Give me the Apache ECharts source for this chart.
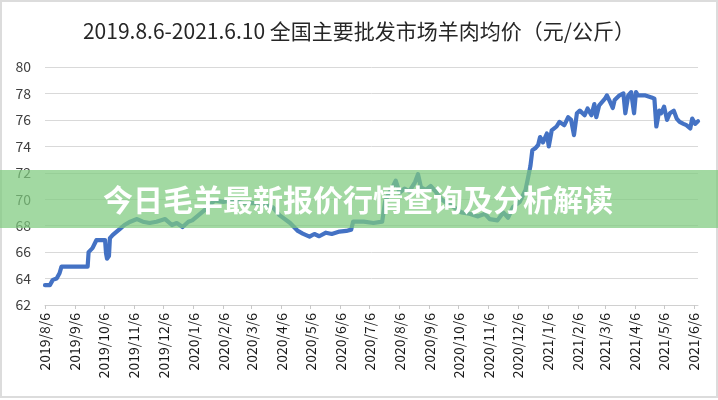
<!DOCTYPE html>
<html>
<head>
<meta charset="utf-8">
<script src="https://cdn.jsdelivr.net/npm/echarts@6/dist/echarts.min.js"></script>
<style>
html,body{margin:0;padding:0;background:#fff;}
#c{width:718px;height:400px;}
</style>
</head>
<body>
<div id="c"></div>
<script>
var titleText = '2019.8.6-2021.6.10 全国主要批发市场羊肉均价（元/公斤）';
var bannerText = '今日毛羊最新报价行情查询及分析解读';

var tickLabels = ['2019/8/6','2019/9/6','2019/10/6','2019/11/6','2019/12/6','2020/1/6','2020/2/6','2020/3/6','2020/4/6','2020/5/6','2020/6/6','2020/7/6','2020/8/6','2020/9/6','2020/10/6','2020/11/6','2020/12/6','2021/1/6','2021/2/6','2021/3/6','2021/4/6','2021/5/6','2021/6/6'];

var yTicks = [62, 64, 66, 68, 70, 72, 74, 76, 78, 80];

var dates = [
'2019/8/6','2019/8/11','2019/8/14','2019/8/18','2019/8/21','2019/8/23','2019/9/19','2019/9/20','2019/9/24','2019/9/28',
'2019/10/7','2019/10/8','2019/10/9','2019/10/11','2019/10/12','2019/10/15','2019/10/19','2019/10/23','2019/10/27','2019/11/2',
'2019/11/9','2019/11/15','2019/11/22','2019/11/29','2019/12/8','2019/12/15','2019/12/20','2019/12/26','2020/1/1','2020/1/5',
'2020/1/10','2020/1/18','2020/1/28','2020/2/6','2020/2/15','2020/2/28','2020/3/10','2020/3/20','2020/3/28','2020/4/4',
'2020/4/15','2020/4/23','2020/4/28','2020/5/5','2020/5/10','2020/5/15','2020/5/22','2020/5/28','2020/6/5','2020/6/12',
'2020/6/17','2020/6/19','2020/6/30','2020/7/10','2020/7/19','2020/7/22','2020/7/25','2020/7/29','2020/8/2','2020/8/6',
'2020/8/11','2020/8/16','2020/8/22','2020/8/25','2020/8/28','2020/9/2','2020/9/7','2020/9/12','2020/9/18','2020/9/24',
'2020/10/1','2020/10/9','2020/10/17','2020/10/26','2020/11/2','2020/11/7','2020/11/15','2020/11/21','2020/11/26','2020/12/1',
'2020/12/8','2020/12/14','2020/12/19','2020/12/21','2020/12/24','2020/12/27','2020/12/29','2021/1/1','2021/1/5','2021/1/7',
'2021/1/10','2021/1/15','2021/1/18','2021/1/23','2021/1/27','2021/1/30','2021/2/2','2021/2/5','2021/2/8','2021/2/13',
'2021/2/16','2021/2/20','2021/2/23','2021/2/25','2021/2/28','2021/3/6','2021/3/8','2021/3/11','2021/3/14','2021/3/16',
'2021/3/21','2021/3/25','2021/3/27','2021/3/30','2021/4/2','2021/4/5','2021/4/7','2021/4/9','2021/4/16','2021/4/23',
'2021/4/26','2021/4/28','2021/5/1','2021/5/3','2021/5/6','2021/5/9','2021/5/12','2021/5/16','2021/5/19','2021/5/22',
'2021/5/26','2021/5/29','2021/6/2','2021/6/4','2021/6/7','2021/6/9','2021/6/10'
];

var prices = [
63.5,63.5,63.9,64.0,64.4,64.9,64.9,66.0,66.3,66.9,
66.9,65.9,65.5,65.7,67.05,67.3,67.55,67.8,68.05,68.3,
68.5,68.3,68.2,68.3,68.5,68.05,68.2,67.9,68.3,68.4,
68.7,69.2,69.9,69.8,69.9,69.7,69.7,69.6,69.4,68.8,
68.2,67.6,67.4,67.17,67.37,67.2,67.47,67.37,67.55,67.6,
67.7,68.3,68.3,68.2,68.3,69.8,70.3,70.8,71.4,70.5,
70.8,70.6,71.3,71.9,70.9,70.7,71.0,70.6,70.0,69.7,
69.4,69.0,68.9,68.7,68.9,68.5,68.4,69.0,68.6,69.4,
69.8,70.7,72.5,73.7,73.85,74.1,74.7,74.3,74.97,74.0,
75.2,75.5,75.85,75.6,76.2,76.0,74.85,76.5,76.7,76.35,
76.86,76.35,77.2,76.2,77.1,77.6,77.85,77.4,76.9,77.5,
77.86,78.0,76.5,77.86,78.1,76.5,78.1,77.86,77.86,77.7,
77.6,75.5,76.7,76.5,77.0,76.0,76.5,76.7,76.1,75.85,
75.7,75.6,75.35,76.1,75.7,75.85,75.9
];

function ts(s) {
  var p = s.split('/');
  return new Date(+p[0], +p[1] - 1, +p[2]).getTime();
}
function fmt(v) {
  var d = new Date(v);
  return d.getFullYear() + '/' + (d.getMonth() + 1) + '/' + d.getDate();
}

var tickTs = tickLabels.map(ts);
var seriesData = dates.map(function (d, i) { return [ts(d), prices[i]]; });

var chart = echarts.init(document.getElementById('c'), null, {renderer: 'canvas'});
var FONT = "'Noto Sans CJK SC', 'Noto Sans', sans-serif";

chart.setOption({
  backgroundColor: '#ffffff',
  animation: false,
  title: {
    text: titleText,
    left: 'center',
    top: 16,
    textStyle: {fontSize: 21, fontWeight: 'normal', color: '#262626', fontFamily: FONT}
  },
  grid: {left: 45, right: 20, top: 67, bottom: 95, containLabel: false},
  xAxis: {
    type: 'value',
    min: ts('2019/8/6'),
    max: ts('2021/6/10'),
    axisLine: {show: true, lineStyle: {color: '#d0d0d0', width: 1}},
    axisTick: {show: true, customValues: tickTs, length: 4, lineStyle: {color: '#c8c8c8'}},
    axisLabel: {
      customValues: tickTs,
      rotate: 90,
      margin: 8,
      fontSize: 14,
      color: '#1a1a1a',
      fontFamily: FONT,
      formatter: function (v) { return fmt(v); }
    },
    splitLine: {show: false}
  },
  yAxis: {
    type: 'value',
    min: yTicks[0],
    max: yTicks[yTicks.length - 1],
    interval: 2,
    axisLine: {show: false},
    axisTick: {show: false},
    axisLabel: {margin: 14, fontSize: 14, color: '#404040', fontFamily: FONT},
    splitLine: {lineStyle: {color: '#d9d9d9', width: 1}}
  },
  series: [{
    type: 'line',
    data: seriesData,
    showSymbol: false,
    symbol: 'none',
    lineStyle: {color: '#4472C4', width: 4.2, join: 'round', cap: 'round'},
    z: 2
  }],
  graphic: [
    {
      type: 'rect',
      z: 100,
      shape: {x: 1, y: 1, width: 716, height: 396},
      style: {fill: 'none', stroke: '#dcdcdc', lineWidth: 2},
      silent: true
    },
    {
      type: 'rect',
      z: 100,
      shape: {x: 0, y: 170, width: 718, height: 58},
      style: {fill: 'rgba(126, 203, 126, 0.72)'},
      silent: true
    },
    {
      type: 'text',
      z: 101,
      x: 358,
      y: 200,
      style: {
        text: bannerText,
        fill: '#ffffff',
        fontSize: 30,
        fontWeight: 'bold',
        fontFamily: FONT,
        align: 'center',
        verticalAlign: 'middle',
        shadowColor: 'rgba(0,0,0,0.15)',
        shadowBlur: 2
      },
      silent: true
    }
  ]
});
</script>
</body>
</html>
